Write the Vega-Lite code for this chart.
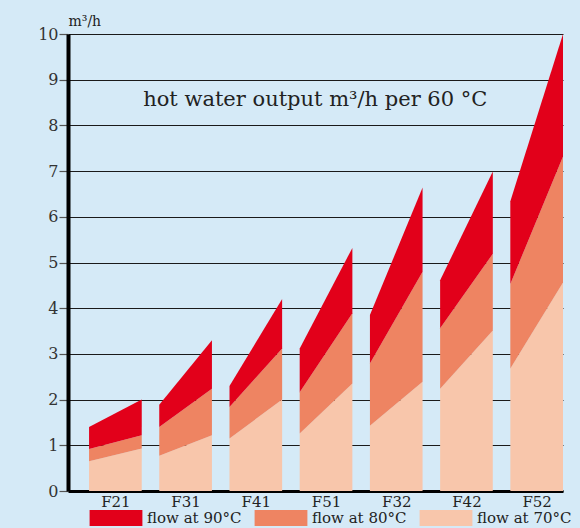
{
  "$schema": "https://vega.github.io/schema/vega-lite/v6.json",
  "width": 495,
  "height": 457,
  "autosize": {"type": "none"},
  "padding": {"left": 68, "top": 34, "right": 17, "bottom": 37},
  "background": "#D5EAF7",
  "config": {
    "view": {"stroke": null},
    "font": "DejaVu Serif",
    "text": {"font": "DejaVu Serif"}
  },
  "datasets": {
    "flow": [
      {"m": "F21", "x": 0, "s": "flow at 70°C", "lo": 0, "hi": 0.65},
      {"m": "F21", "x": 0.75, "s": "flow at 70°C", "lo": 0, "hi": 0.93},
      {"m": "F21", "x": 0, "s": "flow at 80°C", "lo": 0.65, "hi": 0.92},
      {"m": "F21", "x": 0.75, "s": "flow at 80°C", "lo": 0.93, "hi": 1.22},
      {"m": "F21", "x": 0, "s": "flow at 90°C", "lo": 0.92, "hi": 1.4},
      {"m": "F21", "x": 0.75, "s": "flow at 90°C", "lo": 1.22, "hi": 2.0},
      {"m": "F31", "x": 1, "s": "flow at 70°C", "lo": 0, "hi": 0.77},
      {"m": "F31", "x": 1.75, "s": "flow at 70°C", "lo": 0, "hi": 1.22},
      {"m": "F31", "x": 1, "s": "flow at 80°C", "lo": 0.77, "hi": 1.4},
      {"m": "F31", "x": 1.75, "s": "flow at 80°C", "lo": 1.22, "hi": 2.24},
      {"m": "F31", "x": 1, "s": "flow at 90°C", "lo": 1.4, "hi": 1.89},
      {"m": "F31", "x": 1.75, "s": "flow at 90°C", "lo": 2.24, "hi": 3.3},
      {"m": "F41", "x": 2, "s": "flow at 70°C", "lo": 0, "hi": 1.15},
      {"m": "F41", "x": 2.75, "s": "flow at 70°C", "lo": 0, "hi": 2.0},
      {"m": "F41", "x": 2, "s": "flow at 80°C", "lo": 1.15, "hi": 1.84},
      {"m": "F41", "x": 2.75, "s": "flow at 80°C", "lo": 2.0, "hi": 3.12},
      {"m": "F41", "x": 2, "s": "flow at 90°C", "lo": 1.84, "hi": 2.3},
      {"m": "F41", "x": 2.75, "s": "flow at 90°C", "lo": 3.12, "hi": 4.2},
      {"m": "F51", "x": 3, "s": "flow at 70°C", "lo": 0, "hi": 1.26},
      {"m": "F51", "x": 3.75, "s": "flow at 70°C", "lo": 0, "hi": 2.35},
      {"m": "F51", "x": 3, "s": "flow at 80°C", "lo": 1.26, "hi": 2.16},
      {"m": "F51", "x": 3.75, "s": "flow at 80°C", "lo": 2.35, "hi": 3.89},
      {"m": "F51", "x": 3, "s": "flow at 90°C", "lo": 2.16, "hi": 3.12},
      {"m": "F51", "x": 3.75, "s": "flow at 90°C", "lo": 3.89, "hi": 5.32},
      {"m": "F32", "x": 4, "s": "flow at 70°C", "lo": 0, "hi": 1.43},
      {"m": "F32", "x": 4.75, "s": "flow at 70°C", "lo": 0, "hi": 2.39},
      {"m": "F32", "x": 4, "s": "flow at 80°C", "lo": 1.43, "hi": 2.79},
      {"m": "F32", "x": 4.75, "s": "flow at 80°C", "lo": 2.39, "hi": 4.8},
      {"m": "F32", "x": 4, "s": "flow at 90°C", "lo": 2.79, "hi": 3.85},
      {"m": "F32", "x": 4.75, "s": "flow at 90°C", "lo": 4.8, "hi": 6.64},
      {"m": "F42", "x": 5, "s": "flow at 70°C", "lo": 0, "hi": 2.24},
      {"m": "F42", "x": 5.75, "s": "flow at 70°C", "lo": 0, "hi": 3.51},
      {"m": "F42", "x": 5, "s": "flow at 80°C", "lo": 2.24, "hi": 3.56},
      {"m": "F42", "x": 5.75, "s": "flow at 80°C", "lo": 3.51, "hi": 5.19},
      {"m": "F42", "x": 5, "s": "flow at 90°C", "lo": 3.56, "hi": 4.61},
      {"m": "F42", "x": 5.75, "s": "flow at 90°C", "lo": 5.19, "hi": 6.99},
      {"m": "F52", "x": 6, "s": "flow at 70°C", "lo": 0, "hi": 2.68},
      {"m": "F52", "x": 6.75, "s": "flow at 70°C", "lo": 0, "hi": 4.56},
      {"m": "F52", "x": 6, "s": "flow at 80°C", "lo": 2.68, "hi": 4.53},
      {"m": "F52", "x": 6.75, "s": "flow at 80°C", "lo": 4.56, "hi": 7.32},
      {"m": "F52", "x": 6, "s": "flow at 90°C", "lo": 4.53, "hi": 6.34},
      {"m": "F52", "x": 6.75, "s": "flow at 90°C", "lo": 7.32, "hi": 10.0}
    ],
    "note": [
      {"x": 0.77, "y": 8.55, "t": "hot water output m³/h per 60 °C"}
    ]
  },
  "layer": [
    {
      "data": {"name": "flow"},
      "mark": {"type": "area", "opacity": 1},
      "encoding": {
        "x": {
          "field": "x",
          "type": "quantitative",
          "scale": {"domain": [-0.3, 6.75], "nice": false, "zero": false},
          "axis": {
            "title": null,
            "values": [0.375, 1.375, 2.375, 3.375, 4.375, 5.375, 6.375],
            "labelExpr": "['F21','F31','F41','F51','F32','F42','F52'][round(datum.value - 0.375)]",
            "grid": false,
            "ticks": false,
            "domainColor": "#000000",
            "domainWidth": 3,
            "labelFont": "DejaVu Serif",
            "labelFontSize": 15,
            "labelColor": "#222222",
            "labelPadding": 3
          }
        },
        "y": {
          "field": "hi",
          "type": "quantitative",
          "scale": {"domain": [0, 10], "nice": false},
          "axis": {
            "title": "m³/h",
            "titleAngle": 0,
            "titleX": 0,
            "titleY": -6,
            "titleAlign": "left",
            "titleBaseline": "bottom",
            "titleFont": "DejaVu Serif",
            "titleFontSize": 14,
            "titleFontWeight": "normal",
            "titleColor": "#222222",
            "values": [0, 1, 2, 3, 4, 5, 6, 7, 8, 9, 10],
            "grid": true,
            "gridColor": "#1a1a1a",
            "gridWidth": 1.2,
            "gridOpacity": 1,
            "domainColor": "#000000",
            "domainWidth": 4,
            "tickColor": "#555555",
            "tickSize": 9,
            "tickWidth": 1.2,
            "labelFont": "DejaVu Serif",
            "labelFontSize": 16,
            "labelColor": "#333333",
            "labelPadding": 1
          }
        },
        "y2": {"field": "lo"},
        "detail": {"field": "m"},
        "color": {
          "field": "s",
          "type": "nominal",
          "scale": {
            "domain": ["flow at 90°C", "flow at 80°C", "flow at 70°C"],
            "range": ["#E2001A", "#EE8462", "#F8C6AB"]
          },
          "legend": {
            "title": null,
            "orient": "none",
            "direction": "horizontal",
            "legendX": 40,
            "legendY": 476,
            "padding": 0,
            "columnPadding": 12,
            "symbolType": "M-3.3,-1H3.3V1H-3.3Z",
            "symbolSize": 256,
            "symbolStrokeWidth": 0,
            "symbolOpacity": 1,
            "labelOffset": 23,
            "labelFont": "DejaVu Serif",
            "labelFontSize": 15,
            "labelColor": "#222222"
          }
        }
      }
    },
    {
      "data": {"name": "note"},
      "mark": {"type": "text", "align": "left", "baseline": "middle", "font": "DejaVu Serif", "fontSize": 21, "color": "#222222"},
      "encoding": {
        "x": {"field": "x", "type": "quantitative"},
        "y": {"field": "y", "type": "quantitative"},
        "text": {"field": "t"}
      }
    }
  ]
}
